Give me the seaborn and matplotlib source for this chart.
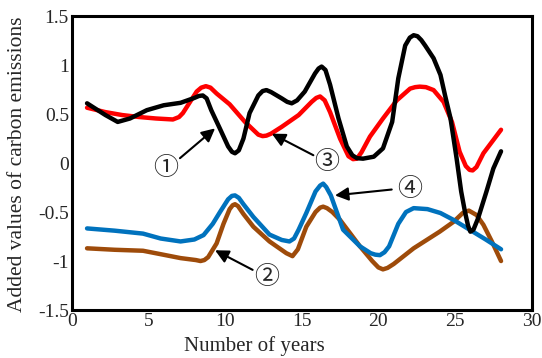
import matplotlib
matplotlib.use("Agg")
import matplotlib.pyplot as plt
import pandas as pd
import seaborn as sns

# curve samples (year, added value)
black_x = [1, 2.2, 3.0, 3.8, 4.9, 6.0, 7.1, 8.0, 8.3, 8.55, 8.8, 9.1, 9.67, 10.2, 10.45,
           10.65, 10.9, 11.2, 11.6, 12.17, 12.45, 12.7, 13.0, 13.7, 14.05, 14.35, 14.7,
           15.2, 15.87, 16.1, 16.3, 16.55, 16.85, 17.4, 17.94, 18.3, 18.6, 19.0, 19.7,
           20.3, 20.9, 21.3, 21.75, 22.05, 22.3, 22.55, 22.8, 23.05, 23.6, 24.05, 24.35,
           24.7, 25.1, 25.4, 25.65, 25.85, 26.0, 26.2, 26.5, 27.05, 27.5, 28]
black_y = [0.61, 0.49, 0.42, 0.455, 0.54, 0.59, 0.615, 0.665, 0.685, 0.69, 0.66, 0.54,
           0.35, 0.17, 0.115, 0.10, 0.13, 0.25, 0.51, 0.69, 0.735, 0.745, 0.725, 0.66,
           0.625, 0.61, 0.64, 0.73, 0.915, 0.965, 0.985, 0.95, 0.80, 0.456, 0.17, 0.08,
           0.05, 0.045, 0.065, 0.15, 0.42, 0.865, 1.20, 1.28, 1.305, 1.295, 1.255, 1.20,
           1.07, 0.90, 0.69, 0.46, 0.05, -0.29, -0.50, -0.64, -0.70, -0.68, -0.565, -0.29,
           -0.055, 0.12]

red_x = [1, 2.2, 3.3, 4.4, 5.5, 6.6, 7.0, 7.25, 7.7, 8.15, 8.45, 8.75, 9.05, 9.45, 10.3,
         11.3, 12.17, 12.45, 12.7, 13.0, 13.7, 14.8, 15.65, 15.95, 16.2, 16.5, 16.85, 17.5,
         18.05, 18.35, 18.6, 18.9, 19.45, 20.3, 21.2, 22.07, 22.4, 22.7, 23.1, 23.6, 24.25,
         24.8, 25.3, 25.7, 25.95, 26.15, 26.4, 26.85, 28]
red_y = [0.565, 0.52, 0.49, 0.47, 0.455, 0.445, 0.47, 0.51, 0.62, 0.73, 0.77, 0.785, 0.77,
         0.71, 0.60, 0.42, 0.29, 0.275, 0.28, 0.30, 0.37, 0.49, 0.625, 0.665, 0.68, 0.64,
         0.52, 0.25, 0.07, 0.04, 0.045, 0.11, 0.27, 0.455, 0.64, 0.76, 0.775, 0.78, 0.775,
         0.745, 0.625, 0.42, 0.115, -0.03, -0.07, -0.075, -0.04, 0.10, 0.34]

blue_x = [1, 2.8, 4.65, 5.8, 7.1, 8.0, 8.6, 9.2, 9.67, 10.2, 10.45, 10.65, 10.9, 11.2,
          11.85, 12.9, 13.7, 14.2, 14.5, 14.8, 15.3, 15.9, 16.2, 16.4, 16.6, 16.9, 17.7,
          18.8, 19.5, 19.8, 20.1, 20.4, 20.7, 21.3, 21.8, 22.3, 23.2, 24.05, 24.9, 25.95,
          27.0, 28]
blue_y = [-0.667, -0.69, -0.72, -0.77, -0.80, -0.78, -0.735, -0.62, -0.50, -0.37, -0.335,
          -0.33, -0.355, -0.42, -0.55, -0.73, -0.785, -0.80, -0.77, -0.68, -0.51, -0.29,
          -0.23, -0.21, -0.245, -0.33, -0.68, -0.85, -0.92, -0.935, -0.94, -0.91, -0.85,
          -0.62, -0.50, -0.46, -0.47, -0.51, -0.58, -0.68, -0.78, -0.88]

brown_x = [1, 2.8, 4.65, 5.8, 7.1, 8.1, 8.4, 8.65, 8.9, 9.45, 9.9, 10.3, 10.5, 10.65, 10.85,
           11.2, 11.85, 12.9, 14.0, 14.4, 14.75, 15.3, 15.9, 16.2, 16.4, 16.65, 17.0, 17.5,
           18.8, 19.6, 20.0, 20.3, 20.6, 21.0, 22.3, 24.0, 24.9, 25.5, 25.9, 26.4, 26.85,
           27.4, 28]
brown_y = [-0.87, -0.885, -0.895, -0.93, -0.97, -0.99, -1.0, -0.99, -0.96, -0.82, -0.62,
           -0.47, -0.43, -0.42, -0.44, -0.52, -0.65, -0.80, -0.92, -0.95, -0.88, -0.65,
           -0.50, -0.455, -0.445, -0.46, -0.50, -0.58, -0.85, -1.00, -1.065, -1.085, -1.07,
           -1.03, -0.87, -0.70, -0.60, -0.51, -0.485, -0.53, -0.63, -0.80, -1.0]

x_ticks = [0, 5, 10, 15, 20, 25, 30]
y_ticks = [-1.5, -1, -0.5, 0, 0.5, 1, 1.5]
y_tick_labels = ["-1.5", "-1", "-0.5", "0", "0.5", "1", "1.5"]

# circled labels: (text, text position, arrow tail, arrow head)
labels = [
    ("①", (6.15, -0.05), (7.06, 0.05), (9.35, 0.354)),
    ("②", (12.72, -1.16), (11.8, -1.09), (9.35, -0.89)),
    ("③", (16.63, 0.007), (15.76, 0.08), (13.05, 0.30)),
    ("④", (22.07, -0.26), (20.87, -0.27), (17.17, -0.33)),
]

frames = []
for name, xs, ys in [("brown", brown_x, brown_y), ("blue", blue_x, blue_y),
                     ("red", red_x, red_y), ("black", black_x, black_y)]:
    frames.append(pd.DataFrame({"year": xs, "value": ys, "series": name}))
df = pd.concat(frames, ignore_index=True)

palette = {"black": "#000000", "red": "#ff0000", "blue": "#0072bd", "brown": "#9e4b0a"}

sns.set_style("white")
plt.rcParams["font.family"] = ["Liberation Serif", "DejaVu Serif"]
plt.rcParams["axes.unicode_minus"] = False

fig, ax = plt.subplots(figsize=(5.42, 3.58), dpi=100)
fig.subplots_adjust(left=0.1323, right=0.981, bottom=0.134, top=0.955)

sns.lineplot(data=df, x="year", y="value", hue="series", palette=palette,
             hue_order=["brown", "blue", "red", "black"], estimator=None, sort=False,
             linewidth=3.2, legend=False, ax=ax)
for line in ax.lines:
    line.set_solid_joinstyle("round")
    line.set_solid_capstyle("round")

for txt, tpos, tail, head in labels:
    ax.annotate("", xy=head, xytext=tail,
                arrowprops=dict(arrowstyle="-|>", color="k", lw=1.5, mutation_scale=20,
                                shrinkA=0, shrinkB=0))
    ax.text(tpos[0], tpos[1], txt, fontsize=18, ha="center", va="center",
            family=["Noto Sans CJK SC", "DejaVu Sans"])

ax.set_xlim(0, 30)
ax.set_ylim(-1.5, 1.5)
ax.set_xticks(x_ticks)
ax.set_yticks(y_ticks)
ax.set_yticklabels(y_tick_labels)
ax.tick_params(direction="in", length=6, width=2, labelsize=14, pad=2)
ax.set_xlabel("Number of years", fontsize=15)
ax.xaxis.set_label_coords(0.398, -0.088)
ax.set_ylabel("Added values of carbon emissions", fontsize=15.5)
ax.yaxis.set_label_coords(-0.097, 0.495)
for sp in ax.spines.values():
    sp.set_linewidth(2.2)
    sp.set_color("k")

fig.savefig("out.png", dpi=100)
